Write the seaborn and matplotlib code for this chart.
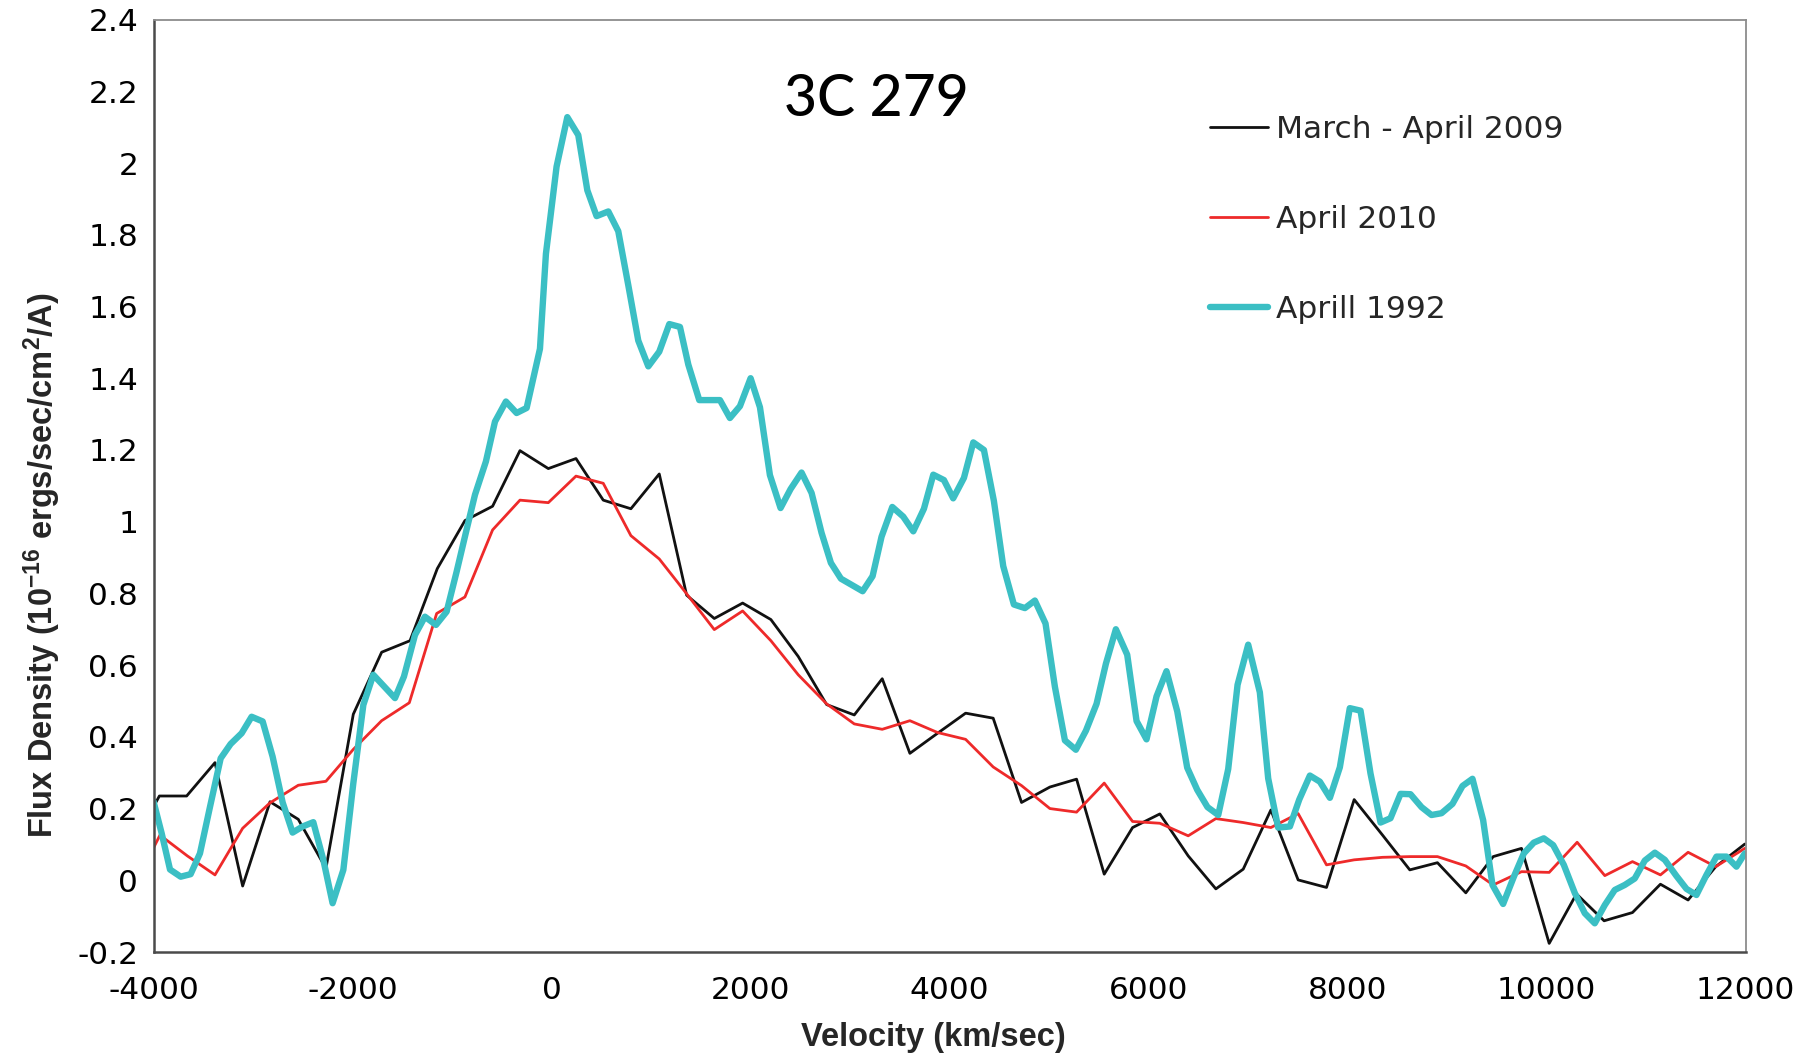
import numpy as np
import pandas as pd
import matplotlib
matplotlib.use("Agg")
import matplotlib.pyplot as plt
import seaborn as sns

# --- data: velocity (km/sec) and flux density for each epoch ---
vel_2009 = [-4218, -3941, -3667, -3382, -3104, -2829, -2545, -2267, -1992, -1707,
            -1422, -1148, -870, -592, -317, -32, 246, 520, 798, 1083,
            1358, 1636, 1921, 2205, 2480, 2765, 3043, 3324, 3602, 3880,
            4162, 4439, 4724, 5009, 5277, 5555, 5840, 6114, 6399, 6677,
            6952, 7230, 7504, 7789, 8067, 8352, 8626, 8904, 9189, 9464,
            9749, 10027, 10301, 10579, 10864, 11145, 11423, 11701, 11993]
flux_2009 = [0.094, 0.235, 0.235, 0.328, -0.016, 0.219, 0.170, 0.033, 0.463, 0.636,
             0.668, 0.869, 1.003, 1.043, 1.198, 1.148, 1.176, 1.060, 1.036, 1.133,
             0.795, 0.730, 0.773, 0.727, 0.624, 0.490, 0.461, 0.562, 0.354, 0.410,
             0.466, 0.452, 0.217, 0.260, 0.282, 0.017, 0.147, 0.185, 0.068, -0.024,
             0.031, 0.196, 0.001, -0.020, 0.225, 0.126, 0.029, 0.049, -0.035, 0.066,
             0.089, -0.176, -0.038, -0.113, -0.090, -0.011, -0.055, 0.038, 0.101]

vel_2010 = [-4212, -3935, -3660, -3382, -3104, -2829, -2545, -2267, -1992, -1707,
            -1429, -1154, -870, -592, -317, -32, 246, 520, 798, 1083,
            1358, 1636, 1921, 2205, 2480, 2765, 3043, 3324, 3602, 3880,
            4162, 4439, 4724, 5009, 5277, 5555, 5840, 6114, 6399, 6677,
            6952, 7230, 7504, 7789, 8067, 8352, 8626, 8904, 9189, 9464,
            9749, 10027, 10308, 10586, 10864, 11145, 11423, 11701, 11993]
flux_2010 = [-0.027, 0.126, 0.068, 0.015, 0.145, 0.216, 0.265, 0.276, 0.365, 0.445,
             0.495, 0.744, 0.790, 0.977, 1.060, 1.053, 1.127, 1.107, 0.961, 0.896,
             0.799, 0.699, 0.751, 0.668, 0.573, 0.492, 0.436, 0.421, 0.445, 0.412,
             0.393, 0.316, 0.264, 0.200, 0.190, 0.271, 0.164, 0.159, 0.124, 0.172,
             0.161, 0.147, 0.186, 0.043, 0.057, 0.064, 0.066, 0.066, 0.040, -0.013,
             0.024, 0.022, 0.106, 0.013, 0.052, 0.015, 0.078, 0.038, 0.089]

vel_1992 = [-4000, -3918, -3834, -3727, -3627, -3533, -3432, -3325, -3225, -3114,
            -3014, -2903, -2803, -2702, -2602, -2501, -2394, -2293, -2200, -2092,
            -1992, -1891, -1791, -1680, -1573, -1483, -1372, -1272, -1161, -1054,
            -954, -860, -769, -659, -568, -458, -351, -250, -116, -56,
            51, 159, 269, 360, 453, 571, 671, 772, 872, 973,
            1083, 1184, 1291, 1375, 1485, 1693, 1793, 1894, 2001, 2095,
            2195, 2302, 2403, 2513, 2614, 2714, 2808, 2909, 3033, 3127,
            3227, 3317, 3425, 3535, 3636, 3743, 3837, 3944, 4037, 4145,
            4239, 4346, 4446, 4540, 4647, 4758, 4858, 4965, 5059, 5160,
            5270, 5371, 5478, 5572, 5672, 5786, 5880, 5980, 6081, 6181,
            6289, 6389, 6490, 6593, 6701, 6801, 6895, 7002, 7119, 7203,
            7303, 7421, 7515, 7622, 7722, 7823, 7923, 8023, 8131, 8231,
            8332, 8432, 8533, 8633, 8744, 8844, 8945, 9055, 9156, 9256,
            9363, 9457, 9564, 9672, 9772, 9872, 9973, 10067, 10174, 10285,
            10385, 10485, 10586, 10686, 10787, 10887, 10988, 11089, 11189, 11306,
            11407, 11507, 11608, 11708, 11809, 11909, 11993]
flux_1992 = [0.220, 0.131, 0.030, 0.010, 0.017, 0.075, 0.205, 0.340, 0.380, 0.410,
             0.456, 0.443, 0.345, 0.217, 0.133, 0.150, 0.162, 0.057, -0.064, 0.029,
             0.270, 0.489, 0.573, 0.540, 0.508, 0.568, 0.684, 0.735, 0.712, 0.749,
             0.860, 0.970, 1.075, 1.168, 1.279, 1.335, 1.303, 1.317, 1.482, 1.747,
             1.990, 2.128, 2.078, 1.924, 1.852, 1.865, 1.810, 1.659, 1.505, 1.433,
             1.474, 1.551, 1.543, 1.438, 1.339, 1.339, 1.289, 1.322, 1.400, 1.319,
             1.130, 1.038, 1.091, 1.137, 1.080, 0.969, 0.885, 0.841, 0.821, 0.806,
             0.848, 0.958, 1.041, 1.014, 0.973, 1.036, 1.131, 1.116, 1.065, 1.122,
             1.221, 1.200, 1.058, 0.876, 0.769, 0.759, 0.780, 0.716, 0.540, 0.390,
             0.364, 0.417, 0.492, 0.604, 0.700, 0.629, 0.444, 0.393, 0.513, 0.583,
             0.471, 0.314, 0.252, 0.204, 0.182, 0.310, 0.545, 0.657, 0.524, 0.284,
             0.147, 0.150, 0.225, 0.292, 0.275, 0.230, 0.315, 0.480, 0.473, 0.298,
             0.161, 0.173, 0.241, 0.240, 0.204, 0.182, 0.187, 0.213, 0.263, 0.283,
             0.168, -0.013, -0.066, 0.010, 0.075, 0.105, 0.117, 0.098, 0.043, -0.036,
             -0.092, -0.120, -0.069, -0.027, -0.013, 0.005, 0.055, 0.077, 0.057, 0.012,
             -0.024, -0.041, 0.015, 0.066, 0.066, 0.038, 0.075]

labels = ["March - April 2009", "April 2010", "Aprill 1992"]
x_ticks = [-4000, -2000, 0, 2000, 4000, 6000, 8000, 10000, 12000]
y_ticks = [-0.2, 0, 0.2, 0.4, 0.6, 0.8, 1, 1.2, 1.4, 1.6, 1.8, 2, 2.2, 2.4]
y_tick_labels = ["-0.2", "0", "0.2", "0.4", "0.6", "0.8", "1", "1.2",
                 "1.4", "1.6", "1.8", "2", "2.2", "2.4"]

sns.set_style("white")
plt.rcParams["font.family"] = ["DejaVu Sans"]
plt.rcParams["mathtext.default"] = "regular"

W, H = 1812, 1056
fig = plt.figure(figsize=(W / 100, H / 100), dpi=100)
ax = fig.add_axes([153.5 / W, 1 - 952 / H, 1592 / W, 932.4 / H])

series = [
    (vel_2009, flux_2009, labels[0], "#111111", 2.0),
    (vel_2010, flux_2010, labels[1], "#ee2a2a", 2.0),
    (vel_1992, flux_1992, labels[2], "#3bbfc4", 4.6),
]
for vel, flux, lab, col, lw in series:
    df = pd.DataFrame({"velocity": vel, "flux": flux})
    sns.lineplot(data=df, x="velocity", y="flux", ax=ax, color=col,
                 linewidth=lw, label=lab, errorbar=None, sort=False)

ax.set_xlim(-4000, 12000)
ax.set_ylim(-0.2, 2.4)
ax.set_xticks(x_ticks)
ax.set_xticklabels([str(t) for t in x_ticks])
ax.set_yticks(y_ticks)
ax.set_yticklabels(y_tick_labels)

ax.tick_params(axis="both", which="major", direction="out", length=7,
               width=1.1, color="#6a6a6a", labelsize=22.5, labelcolor="black")
ax.tick_params(axis="x", pad=10)
ax.tick_params(axis="y", pad=4)

for side in ["left", "bottom"]:
    ax.spines[side].set_color("#4a4a4a")
    ax.spines[side].set_linewidth(1.8)
for side in ["top", "right"]:
    ax.spines[side].set_color("#8c8c8c")
    ax.spines[side].set_linewidth(1.3)

ax.set_xlabel("Velocity (km/sec)", fontsize=23.5, fontweight="bold",
              family=["Liberation Sans", "DejaVu Sans"])
ax.xaxis.set_label_coords(0.4897, -0.075)
ax.set_ylabel(r"Flux Density (10$^{-16}$ ergs/sec/cm$^{2}$/A)", fontsize=23.5,
              fontweight="bold", family=["Liberation Sans", "DejaVu Sans"])
ax.yaxis.set_label_coords(-0.057, 0.415)

fig.text(876 / W, 1 - 99 / H, "3C 279", fontsize=41, fontweight="medium",
         family=["Lato", "DejaVu Sans"], color="black", ha="center", va="center")

leg = ax.legend(loc="upper left", bbox_to_anchor=(1210 / W, 1 - 115 / H),
                bbox_transform=fig.transFigure, frameon=False, fontsize=22.5,
                handlelength=1.86, handletextpad=0.24, labelspacing=1.95,
                borderpad=0, borderaxespad=0)

fig.savefig("out.png", dpi=100)
